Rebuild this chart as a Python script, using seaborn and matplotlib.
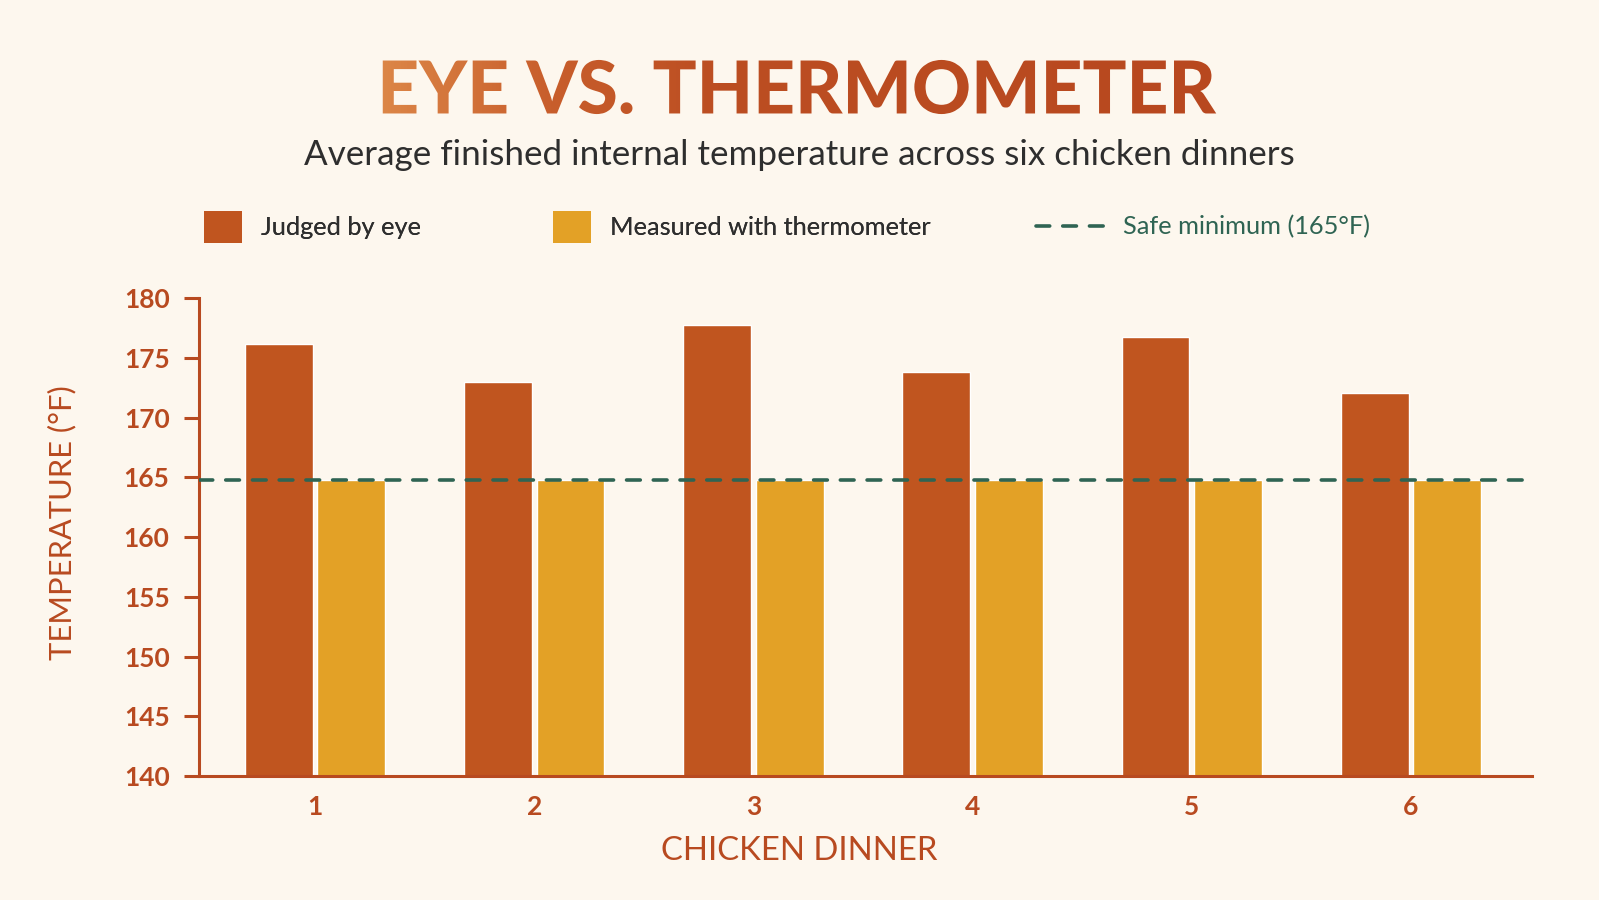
import numpy as np
import pandas as pd
import seaborn as sns
import matplotlib
matplotlib.use("Agg")
from matplotlib import pyplot as plt
from matplotlib.patches import Patch, PathPatch
from matplotlib.lines import Line2D
from matplotlib.textpath import TextPath
from matplotlib.font_manager import FontProperties
from matplotlib.colors import LinearSegmentedColormap

# chart values
dinners = ["1", "2", "3", "4", "5", "6"]
judged_by_eye = [176.2, 173.0, 177.8, 173.8, 176.8, 172.1]
thermometer = [164.8, 164.8, 164.8, 164.8, 164.8, 164.8]
safe_minimum = 165
series_names = ["Judged by eye", "Measured with thermometer"]
y_ticks = [140, 145, 150, 155, 160, 165, 170, 175, 180]

title_text = "EYE VS. THERMOMETER"
subtitle_text = "Average finished internal temperature across six chicken dinners"

BG = "#FDF7EE"
EYE_COL = "#C0551F"
THERMO_COL = "#E3A126"
LINE_COL = "#2F6453"
AXIS_COL = "#B84A20"
TEXT_DARK = "#2E2E2E"

sns.set_theme(style="white")
plt.rcParams["font.family"] = ["Lato", "DejaVu Sans"]

df = pd.DataFrame({
    "dinner": dinners * 2,
    "temp": judged_by_eye + thermometer,
    "method": [series_names[0]] * len(dinners) + [series_names[1]] * len(dinners),
})

W, H = 1599, 900
fig = plt.figure(figsize=(W / 100, H / 100), dpi=100)
fig.patch.set_facecolor(BG)

ax = fig.add_axes([198.7 / W, 124 / H, (1531.7 - 198.7) / W, (776 - 298.3) / H])
ax.set_facecolor(BG)

sns.barplot(data=df, x="dinner", y="temp", hue="method",
            palette=[EYE_COL, THERMO_COL], width=0.66, gap=0.06,
            saturation=1, legend=False, ax=ax, zorder=2)

ax.axhline(safe_minimum - 0.2, color=LINE_COL, lw=2.6, ls=(0, (3.8, 3.6)),
           dash_capstyle="round", zorder=3)

ax.set_ylim(140, 180)
ax.set_xlim(-0.532, 5.552)
ax.set_yticks(y_ticks)
ax.set_xlabel("")
ax.set_ylabel("")

for side in ["top", "right"]:
    ax.spines[side].set_visible(False)
for side in ["left", "bottom"]:
    ax.spines[side].set_color(AXIS_COL)
    ax.spines[side].set_linewidth(2.2)

ax.tick_params(axis="y", length=11, width=2.2, color=AXIS_COL, pad=10,
               labelsize=19, labelcolor=AXIS_COL, left=True)
ax.tick_params(axis="x", length=0, pad=14, labelsize=19, labelcolor=AXIS_COL)
for lab in ax.get_xticklabels() + ax.get_yticklabels():
    lab.set_fontweight("bold")

# axis titles
fig.text(61.7 / W, 1 - 523 / H, "TEMPERATURE (°F)", rotation=90, ha="center",
         va="center", fontsize=22.2, color=AXIS_COL)
fig.text(0.5, 1 - 851 / H, "CHICKEN DINNER", ha="center", va="center",
         fontsize=23.7, color=AXIS_COL)

# subtitle
fig.text(0.5, 1 - 155 / H, subtitle_text, ha="center", va="center",
         fontsize=25.2, color=TEXT_DARK)

# legend, one entry each so the spacing can follow the reference
leg_y = 1 - 227 / H
l1 = fig.legend(handles=[Patch(facecolor=EYE_COL, edgecolor="none", label=series_names[0])],
                loc="center left", bbox_to_anchor=(204 / W, leg_y), frameon=False,
                fontsize=18.3, handlelength=1.5, handleheight=1.5, handletextpad=0.75,
                borderpad=0, borderaxespad=0, labelcolor=TEXT_DARK)
l2 = fig.legend(handles=[Patch(facecolor=THERMO_COL, edgecolor="none", label=series_names[1])],
                loc="center left", bbox_to_anchor=(552.7 / W, leg_y), frameon=False,
                fontsize=18.3, handlelength=1.5, handleheight=1.5, handletextpad=0.75,
                borderpad=0, borderaxespad=0, labelcolor=TEXT_DARK)
l3 = fig.legend(handles=[Line2D([], [], color=LINE_COL, lw=2.6, ls=(0, (3.8, 3.6)),
                                dash_capstyle="round",
                                label=f"Safe minimum ({safe_minimum}°F)")],
                loc="center left", bbox_to_anchor=(1036 / W, leg_y), frameon=False,
                fontsize=18.3, handlelength=2.8, handletextpad=0.62,
                borderpad=0, borderaxespad=0, labelcolor=LINE_COL)
fig.add_artist(l1)
fig.add_artist(l2)

# title with a left-to-right orange gradient
oax = fig.add_axes([0, 0, 1, 1], zorder=5)
oax.set_axis_off()
oax.patch.set_alpha(0)
fp = FontProperties(family="Lato", weight="black")
tp = TextPath((0, 0), title_text, size=73, prop=fp)
bb = tp.get_extents()
cx, cy = 799.5, H - 87
tp = tp.transformed(matplotlib.transforms.Affine2D().translate(
    cx - (bb.x0 + bb.x1) / 2, cy - (bb.y0 + bb.y1) / 2))
bb = tp.get_extents()
title_patch = PathPatch(tp, facecolor="none", edgecolor="none", transform=oax.transData)
oax.add_patch(title_patch)
grad = LinearSegmentedColormap.from_list(
    "title", [(0, "#DC8647"), (0.2, "#C85E2C"), (0.4, "#BC4E22"), (1, "#B8481F")])
im = oax.imshow(np.linspace(0, 1, 256).reshape(1, -1), cmap=grad, aspect="auto",
                extent=(bb.x0 - 2, bb.x1 + 2, bb.y0 - 2, bb.y1 + 2), zorder=6)
im.set_clip_path(title_patch)
oax.set_xlim(0, W)
oax.set_ylim(0, H)

fig.savefig("out.png", dpi=100, facecolor=BG)
